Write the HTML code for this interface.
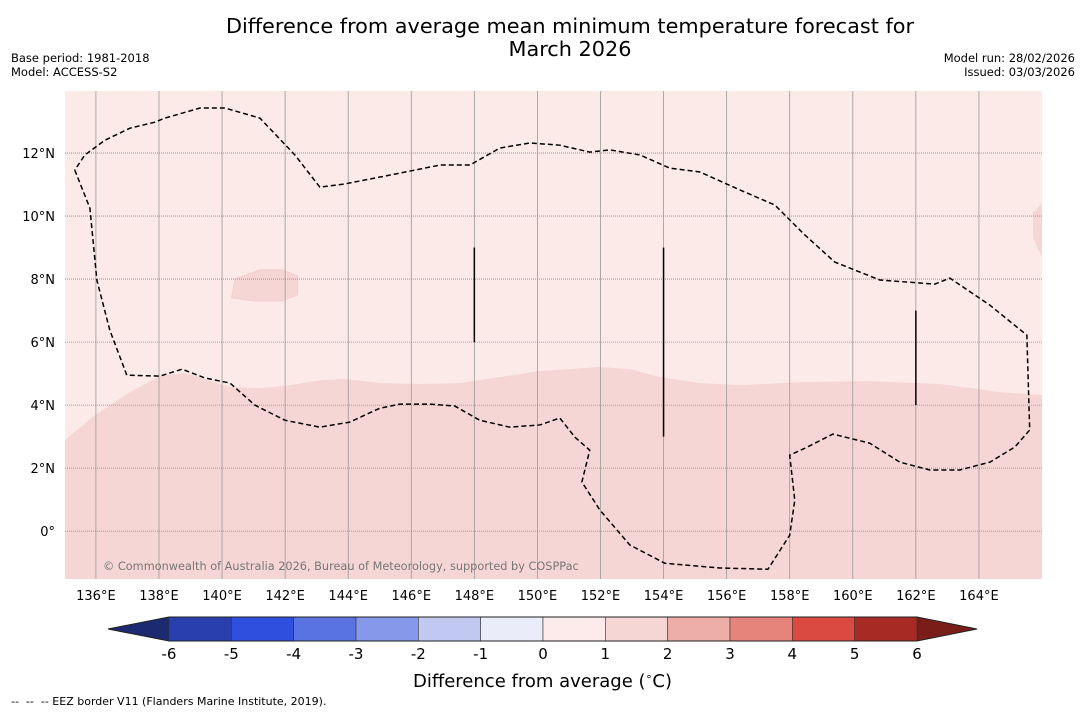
<!DOCTYPE html>
<html><head><meta charset="utf-8"><style>
body{margin:0;background:#fff;font-family:"DejaVu Sans","Liberation Sans",sans-serif;}
#c{position:relative;width:1085px;height:713px;overflow:hidden}
.t{position:absolute;white-space:nowrap;color:#000}
</style></head><body>
<div id="c">
<div class="t" style="left:0;width:1140px;text-align:center;top:15px;font-size:20.8px;line-height:23px">Difference from average mean minimum temperature forecast for<br>March 2026</div>
<div class="t" style="left:11px;top:51px;font-size:11.5px;line-height:14px">Base period: 1981-2018<br>Model: ACCESS-S2</div>
<div class="t" style="right:10px;top:51px;font-size:11.5px;line-height:14px;text-align:right">Model run: 28/02/2026<br>Issued: 03/03/2026</div>
<svg id="s" width="1085" height="713" style="position:absolute;left:0;top:0"></svg>
<div class="t" style="left:0;width:1085px;text-align:center;top:670px;font-size:18px">Difference from average (<sup style="font-size:11px">∘</sup>C)</div>
<div class="t" style="left:11px;top:695px;font-size:11px">-- &nbsp;-- &nbsp;-- EEZ border V11 (Flanders Marine Institute, 2019).</div>
</div>
<script>
const lonTicks=[136,138,140,142,144,146,148,150,152,154,156,158,160,162,164];
const latTicks=[0,2,4,6,8,10,12];
const cbLevels=[-6,-5,-4,-3,-2,-1,0,1,2,3,4,5,6];
const cbColors=["#2a3fae","#2f4fdf","#5a73e3","#8598ea","#c1c9f3","#eaecfa","#fcebea","#f6d6d4","#eeaea8","#e6847c","#da4a40","#a82a24"];
const bLon=[135.02,135.97,137.08,138.03,138.82,140.25,141.2,142.15,143.1,143.89,145,146.27,147.54,148.81,150.08,151.98,152.93,153.88,155.15,156.42,158.32,160.54,162.76,164.66,166];
const bLat=[2.89,3.68,4.41,4.92,5.02,4.57,4.54,4.63,4.79,4.83,4.7,4.67,4.7,4.89,5.08,5.21,5.14,4.89,4.7,4.63,4.73,4.76,4.67,4.41,4.32];
const blobLon=[140.3,140.4,141.2,141.9,142.4,142.4,141.9,141.0,140.3];
const blobLat=[7.4,8.0,8.3,8.3,8.1,7.5,7.3,7.3,7.4];
const eLon=[135.33,135.81,136.03,136.44,136.98,138.03,138.73,139.46,140.25,141.04,141.99,143.1,144.05,145,145.64,146.59,147.38,148.17,149.12,150.08,150.71,151.19,151.66,151.41,151.98,152.93,154.04,155.78,157.31,158,158.16,158,158.48,159.37,160.54,161.49,162.44,163.39,164.35,165.14,165.61,165.52,164.35,163.08,162.6,160.86,159.43,158.48,157.53,156.42,155.15,154.2,153.25,152.3,151.66,150.71,149.76,148.81,147.86,146.91,145.32,143.89,143.1,142.31,141.2,140.09,139.3,138.19,137.87,137.08,136.29,135.65,135.33];
const eLat=[11.46,10.25,7.97,6.38,4.95,4.92,5.14,4.86,4.7,4,3.52,3.3,3.46,3.9,4.03,4.03,3.97,3.52,3.3,3.37,3.59,2.98,2.57,1.56,0.67,-0.44,-1.02,-1.17,-1.21,-0.13,0.98,2.41,2.63,3.08,2.79,2.19,1.94,1.94,2.19,2.67,3.21,6.22,7.17,8.03,7.84,7.97,8.54,9.4,10.35,10.83,11.4,11.52,11.94,12.1,12.03,12.25,12.32,12.16,11.62,11.62,11.3,11.02,10.92,11.94,13.11,13.43,13.43,13.11,12.98,12.79,12.41,11.94,11.46];
const segLon=[148,154,162], segLat0=[6,3,4], segLat1=[9,9,7];

const X0=65,X1=1042,Y0=91,Y1=579;
const lonMin=135.02,lonMax=166.0,latMin=-1.52,latMax=13.97;
const xs=v=>X0+(v-lonMin)/(lonMax-lonMin)*(X1-X0);
const ys=v=>Y1-(v-latMin)/(latMax-latMin)*(Y1-Y0);
const S=document.getElementById('s');const NS='http://www.w3.org/2000/svg';
function mk(t,a,p){const e=document.createElementNS(NS,t);for(const k in a)e.setAttribute(k,a[k]);(p||S).appendChild(e);return e;}
let e;
e=mk('rect',{x:X0,y:Y0,width:X1-X0,height:Y1-Y0,fill:'#fbeae8'});


let d='M'+xs(bLon[0])+','+Y1;bLon.forEach((l,i)=>d+=' L'+xs(l)+','+ys(bLat[i]));d+=' L'+X1+','+Y1+' Z';
e=mk('path',{d:d,fill:'#f6d6d4'});


d='';blobLon.forEach((l,i)=>d+=(i?' L':'M')+xs(l)+','+ys(blobLat[i]));d+=' Z';
e=mk('path',{d:d,fill:'#f6d6d4',stroke:'#f0c8c5',"stroke-width":0.6,"stroke-linejoin":'round'});


e=mk('path',{d:`M${X1},${ys(10.4)} L${X1-9},${ys(10.1)} L${X1-9},${ys(9.3)} L${X1},${ys(8.7)} Z`,fill:'#f6d6d4'});


lonTicks.forEach(v=>{
 e=mk('line',{x1:xs(v),x2:xs(v),y1:Y0,y2:Y1,stroke:'#999',"stroke-width":0.8});
 
 
 e=mk('text',{x:xs(v),y:600,"text-anchor":'middle',"font-size":13,"font-family":'DejaVu Sans,Liberation Sans,sans-serif'});e.textContent=v+'°E';
 
 
});
latTicks.forEach(v=>{
 e=mk('line',{x1:X0,x2:X1,y1:ys(v),y2:ys(v),stroke:'#888',"stroke-width":0.8,"stroke-dasharray":'1,1'});
 
 
 e=mk('text',{x:55,y:ys(v)+5,"text-anchor":'end',"font-size":13,"font-family":'DejaVu Sans,Liberation Sans,sans-serif'});e.textContent=v===0?'0°':v+'°N';
 
 
});
d='';eLon.forEach((l,i)=>d+=(i?' L':'M')+xs(l)+','+ys(eLat[i]));
e=mk('path',{d:d,fill:'none',stroke:'#000',"stroke-width":1.5,"stroke-dasharray":'5,3'});


segLon.forEach((l,i)=>{
 e=mk('line',{x1:xs(l),x2:xs(l),y1:ys(segLat0[i]),y2:ys(segLat1[i]),stroke:'#000',"stroke-width":1.5});
 
 
});
e=mk('text',{x:103,y:570,"font-size":11.3,fill:'#777',"font-family":'DejaVu Sans,Liberation Sans,sans-serif'});e.textContent='© Commonwealth of Australia 2026, Bureau of Meteorology, supported by COSPPac';


const C0=169,C1=917,CY=617,CH=24;const cx=v=>C0+(v+6)/12*(C1-C0);
e=mk('polygon',{points:`${C0},${CY} 108,${CY+CH/2} ${C0},${CY+CH}`,fill:'#1c2a72'});


e=mk('polygon',{points:`${C1},${CY} 977,${CY+CH/2} ${C1},${CY+CH}`,fill:'#7a1c18'});


cbColors.forEach((c,i)=>{
 e=mk('rect',{x:cx(cbLevels[i]),y:CY,width:cx(cbLevels[i+1])-cx(cbLevels[i]),height:CH,fill:c,stroke:'#333',"stroke-width":0.6});
 
 
});
e=mk('polygon',{points:`108,${CY+CH/2} ${C0},${CY} ${C1},${CY} 977,${CY+CH/2} ${C1},${CY+CH} ${C0},${CY+CH}`,fill:'none',stroke:'#222',"stroke-width":1});


cbLevels.forEach(v=>{
 e=mk('text',{x:cx(v),y:659,"text-anchor":'middle',"font-size":15,"font-family":'DejaVu Sans,Liberation Sans,sans-serif'});e.textContent=v;
 
 
});
</script>
</body></html>
